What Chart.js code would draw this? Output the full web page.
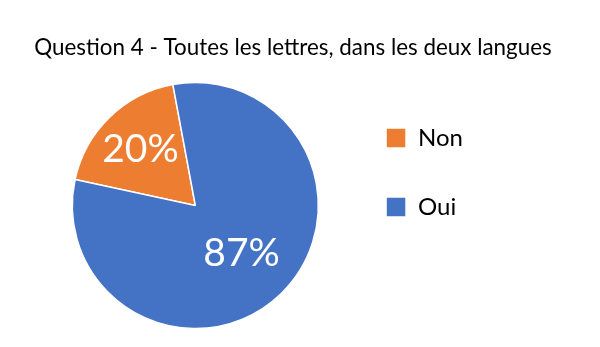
<!DOCTYPE html>
<html lang="fr">
<head>
<meta charset="UTF-8">
<title>Question 4</title>
<style>
    html, body {
        margin: 0;
        padding: 0;
        background: #ffffff;
    }
    .wrap {
        width: 600px;
        height: 347px;
    }
</style>
<script src="https://cdn.jsdelivr.net/npm/chart.js"></script>
</head>
<body>
<div class="wrap">
    <canvas id="pieChart" width="600" height="347"></canvas>
</div>

<script>
    // data
    const categories = ['Non', 'Oui'];
    const values = [20, 87];
    const sliceColors = ['#ED7D31', '#4472C4'];
    const chartTitle = 'Question 4 - Toutes les lettres, dans les deux langues';

    // value labels inside the slices ("20%", "87%")
    const sliceLabels = {
        id: 'sliceLabels',
        afterDatasetsDraw(chart, args, opts) {
            const ctx = chart.ctx;
            const meta = chart.getDatasetMeta(0);
            ctx.save();
            ctx.fillStyle = opts.color;
            ctx.font = opts.font;
            ctx.textAlign = 'center';
            ctx.textBaseline = 'middle';
            meta.data.forEach(function (arc, i) {
                const p = arc.getProps(['x', 'y', 'startAngle', 'endAngle', 'outerRadius'], true);
                const mid = (p.startAngle + p.endAngle) / 2;
                const r = p.outerRadius * opts.dist[i];
                ctx.fillText(values[i] + '%', p.x + Math.cos(mid) * r, p.y + Math.sin(mid) * r);
            });
            ctx.restore();
        }
    };

    // title drawn over the whole width (the built-in one would be squeezed by the legend)
    const topTitle = {
        id: 'topTitle',
        afterDraw(chart, args, opts) {
            const ctx = chart.ctx;
            ctx.save();
            ctx.fillStyle = opts.color;
            ctx.font = opts.font;
            ctx.textAlign = 'center';
            ctx.textBaseline = 'alphabetic';
            ctx.fillText(opts.text, opts.x, opts.y);
            ctx.restore();
        }
    };

    const ctx = document.getElementById('pieChart').getContext('2d');
    new Chart(ctx, {
        type: 'pie',
        data: {
            labels: categories,
            datasets: [{
                data: values,
                backgroundColor: sliceColors,
                borderColor: '#ffffff',
                borderWidth: 1.5
            }]
        },
        options: {
            responsive: false,
            animation: false,
            rotation: -77.8,
            radius: 123,
            layout: {
                padding: { left: 49.6, right: 127, top: 81, bottom: 17 }
            },
            plugins: {
                title: { display: false },
                legend: {
                    position: 'right',
                    align: 'start',
                    labels: {
                        boxWidth: 20,
                        boxHeight: 20,
                        padding: 45,
                        color: '#000000',
                        font: { family: 'Lato', size: 24 }
                    }
                },
                tooltip: { enabled: false },
                topTitle: {
                    text: chartTitle,
                    x: 293,
                    y: 55,
                    color: '#000000',
                    font: '22.4px Lato, sans-serif'
                },
                sliceLabels: {
                    color: '#ffffff',
                    font: '39px Lato, sans-serif',
                    dist: [0.64, 0.54]
                }
            }
        },
        plugins: [sliceLabels, topTitle]
    });
</script>
</body>
</html>
